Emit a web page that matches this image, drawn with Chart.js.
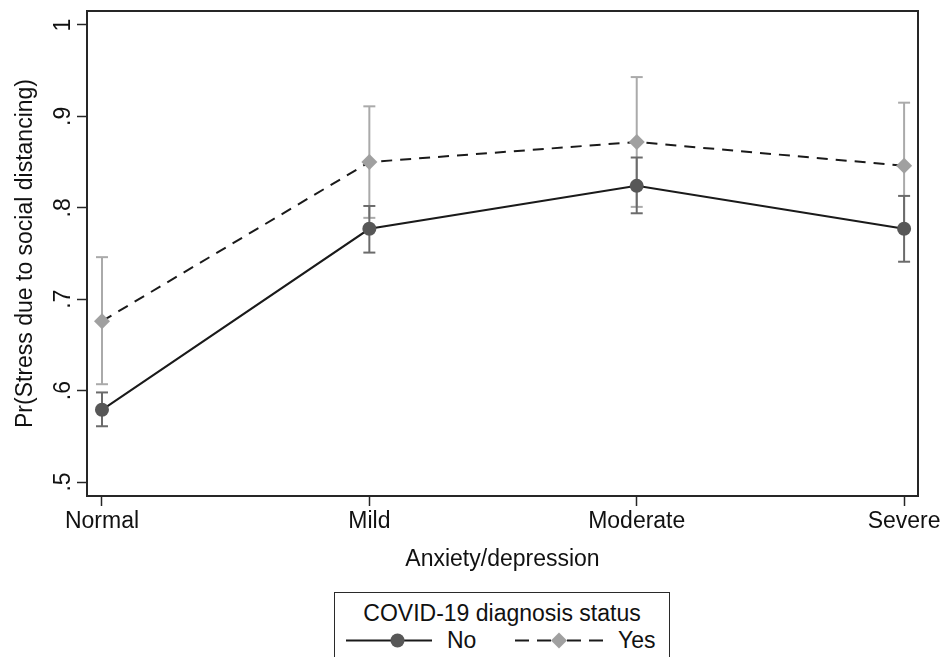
<!DOCTYPE html>
<html>
<head>
<meta charset="utf-8">
<script src="https://cdn.jsdelivr.net/npm/chart.js@4.4.1/dist/chart.umd.min.js"></script>
<style>
    html, body { margin: 0; padding: 0; background: #fff; overflow: hidden; }
    #wrap { position: relative; width: 943px; height: 657px; }
    #legend {
        position: absolute; left: 334px; top: 592px; width: 336px; height: 90px;
        box-sizing: border-box; border: 1.5px solid #2a2a2a; background: #fff;
        font-family: "Liberation Sans", Arial, sans-serif; font-size: 23px; color: #111;
    }
    #legend .title { position: absolute; left: 0; right: 0; top: 7px; line-height: 27px; text-align: center; }
    #legend .item { position: absolute; top: 34px; height: 27px; line-height: 27px; }
    #legend svg { position: absolute; top: 34px; }
</style>
</head>
<body>
<div id="wrap">
    <canvas id="marginsChart" width="943" height="657"></canvas>
    <div id="legend">
        <div class="title">COVID-19 diagnosis status</div>
        <svg width="100" height="27" style="left:9px">
            <line x1="2" y1="13.5" x2="88" y2="13.5" stroke="#1a1a1a" stroke-width="2"/>
            <circle cx="53.5" cy="13.5" r="7" fill="#575757"/>
        </svg>
        <div class="item" style="left:112px">No</div>
        <svg width="100" height="27" style="left:178px">
            <line x1="2" y1="13.5" x2="38" y2="13.5" stroke="#1a1a1a" stroke-width="2" stroke-dasharray="14 8"/>
            <line x1="54" y1="13.5" x2="92" y2="13.5" stroke="#1a1a1a" stroke-width="2" stroke-dasharray="14 8"/>
            <polygon points="46,5.5 54,13.5 46,21.5 38,13.5" fill="#a0a0a0"/>
        </svg>
        <div class="item" style="left:283px">Yes</div>
    </div>
</div>
<script>
const categories = ['Normal', 'Mild', 'Moderate', 'Severe'];

// COVID-19 diagnosis = No
const noMean = [0.579, 0.777, 0.824, 0.777];
const noLow  = [0.561, 0.751, 0.794, 0.741];
const noHigh = [0.598, 0.802, 0.855, 0.813];

// COVID-19 diagnosis = Yes
const yesMean = [0.676, 0.850, 0.872, 0.846];
const yesLow  = [0.607, 0.789, 0.801, 0.777];
const yesHigh = [0.746, 0.911, 0.943, 0.915];

const yTickValues = [0.5, 0.6, 0.7, 0.8, 0.9, 1];
const yTickLabels = ['.5', '.6', '.7', '.8', '.9', '1'];

const FONT = '"Liberation Sans", Arial, sans-serif';
const INK = '#111';
const FRAME = '#262626';

function toPoints(values) {
    return values.map((v, i) => ({ x: i, y: v }));
}

// one small two-point line per category for the confidence intervals
function ciDatasets(low, high, color) {
    return categories.map((c, i) => ({
        data: [{ x: i, y: low[i] }, { x: i, y: high[i] }],
        borderColor: color,
        borderWidth: 2,
        pointStyle: 'line',
        pointRadius: 6,
        pointBorderColor: color,
        pointBorderWidth: 2
    }));
}

const framePlugin = {
    id: 'plotFrame',
    beforeDatasetsDraw(chart) {
        const { ctx, chartArea: a } = chart;
        ctx.save();
        ctx.strokeStyle = FRAME;
        ctx.lineWidth = 2;
        ctx.strokeRect(a.left, a.top, a.right - a.left, a.bottom - a.top);
        ctx.restore();
    }
};

// Stata style vertical tick labels on the y axis
const yLabelPlugin = {
    id: 'yLabels',
    afterDraw(chart) {
        const { ctx } = chart;
        const y = chart.scales.y;
        ctx.save();
        ctx.fillStyle = INK;
        ctx.font = '23px ' + FONT;
        ctx.textAlign = 'center';
        ctx.textBaseline = 'alphabetic';
        y.ticks.forEach((t, i) => {
            ctx.save();
            ctx.translate(y.right - 17, y.getPixelForValue(t.value));
            ctx.rotate(-Math.PI / 2);
            ctx.fillText(yTickLabels[i], 0, 0);
            ctx.restore();
        });
        ctx.restore();
    }
};

const ctx = document.getElementById('marginsChart').getContext('2d');
new Chart(ctx, {
    type: 'line',
    data: {
        datasets: [
            {
                label: 'No',
                data: toPoints(noMean),
                borderColor: '#1a1a1a',
                borderWidth: 2,
                pointStyle: 'circle',
                pointRadius: 7,
                pointBackgroundColor: '#575757',
                pointBorderColor: '#575757',
                pointBorderWidth: 0
            },
            {
                label: 'Yes',
                data: toPoints(yesMean),
                borderColor: '#1a1a1a',
                borderWidth: 2,
                borderDash: [11, 8],
                pointStyle: 'rectRot',
                pointRadius: 8,
                pointBackgroundColor: '#a0a0a0',
                pointBorderColor: '#a0a0a0',
                pointBorderWidth: 0
            },
            ...ciDatasets(noLow, noHigh, '#6b6b6b'),
            ...ciDatasets(yesLow, yesHigh, '#aaaaaa')
        ]
    },
    options: {
        responsive: false,
        animation: false,
        events: [],
        layout: { padding: { left: 0, top: 11, right: 25, bottom: 82 } },
        plugins: { legend: { display: false }, tooltip: { enabled: false } },
        scales: {
            x: {
                type: 'linear',
                min: -0.056,
                max: 3.052,
                afterBuildTicks: s => { s.ticks = categories.map((c, i) => ({ value: i })); },
                afterFit: s => { s.height = 79; },
                grid: { drawOnChartArea: false, drawTicks: true, tickLength: 10, tickColor: FRAME, tickWidth: 1.5 },
                border: { display: false },
                ticks: {
                    callback: v => categories[v],
                    color: INK,
                    font: { family: FONT, size: 23 },
                    padding: 2,
                    maxRotation: 0,
                    autoSkip: false
                },
                title: {
                    display: true,
                    text: 'Anxiety/depression',
                    color: INK,
                    font: { family: FONT, size: 23 },
                    padding: { top: 0, bottom: 1.5 }
                }
            },
            y: {
                min: 0.4847,
                max: 1.0153,
                afterBuildTicks: s => { s.ticks = yTickValues.map(v => ({ value: v })); },
                afterFit: s => { s.width = 87; },
                grid: { drawOnChartArea: false, drawTicks: true, tickLength: 10, tickColor: FRAME, tickWidth: 1.5 },
                border: { display: false },
                ticks: { display: false },
                title: {
                    display: true,
                    text: 'Pr(Stress due to social distancing)',
                    color: INK,
                    font: { family: FONT, size: 23 },
                    padding: { top: 12, bottom: 0 }
                }
            }
        }
    },
    plugins: [framePlugin, yLabelPlugin]
});
</script>
</body>
</html>
